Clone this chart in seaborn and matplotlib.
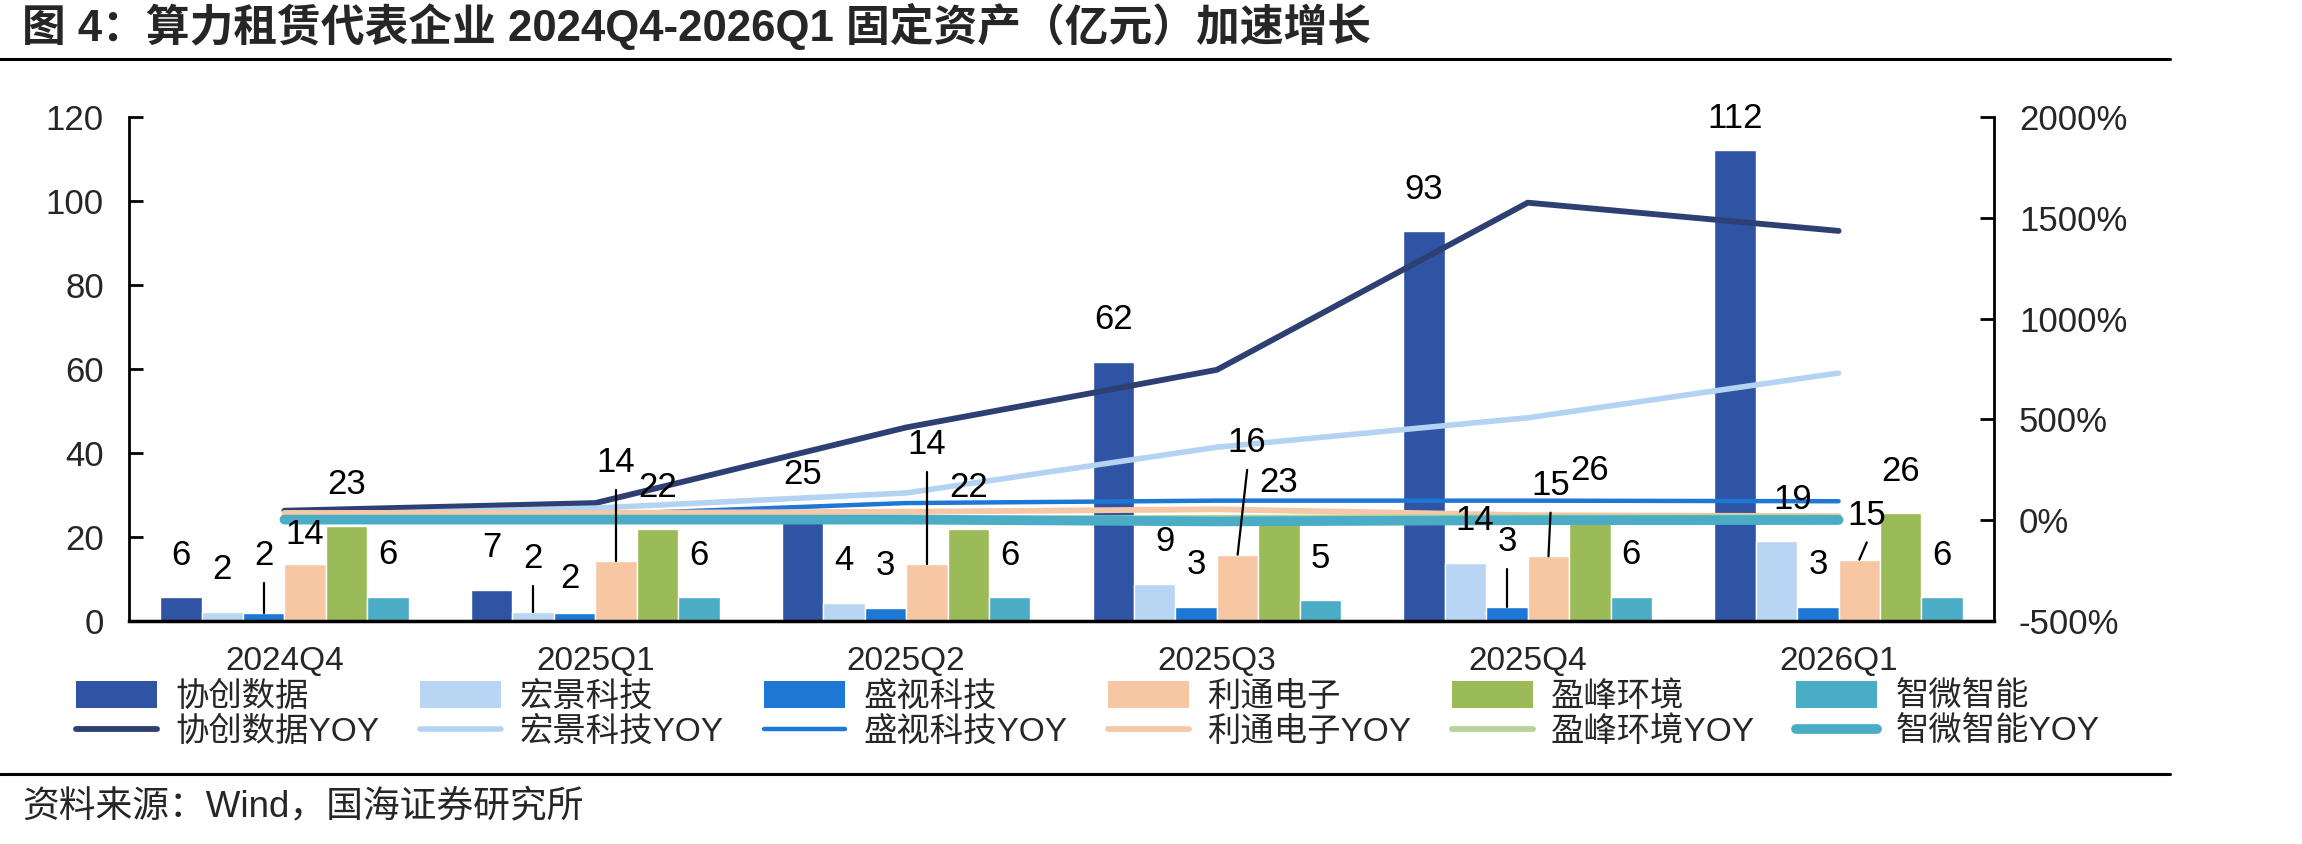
import numpy as np
import pandas as pd
import matplotlib
matplotlib.use('Agg')
import matplotlib.pyplot as plt
import matplotlib.ticker as mticker
from matplotlib.lines import Line2D
from matplotlib.patches import Patch
import seaborn as sns

# ---------------- data ----------------
quarters = ['2024Q4', '2025Q1', '2025Q2', '2025Q3', '2025Q4', '2026Q1']
companies = ['协创数据', '宏景科技', '盛视科技', '利通电子', '盈峰环境', '智微智能']

xiechuang = [5.6, 7.4, 24.8, 61.7, 92.8, 112.2]
hongjing = [2.2, 2.2, 4.3, 8.7, 13.9, 19.0]
shengshi = [2.0, 2.0, 3.2, 3.4, 3.4, 3.4]
litong = [13.6, 14.2, 13.6, 15.8, 15.4, 14.6]
yingfeng = [22.6, 21.8, 21.9, 23.0, 25.8, 25.6]
zhiwei = [5.8, 5.7, 5.7, 5.0, 5.8, 5.7]

xiechuang_yoy = [47, 85, 460, 746, 1575, 1435]
hongjing_yoy = [25, 60, 135, 362, 508, 730]
shengshi_yoy = [20, 28, 85, 97, 97, 94]
litong_yoy = [36, 36, 42, 54, 25, 20]
yingfeng_yoy = [10, 8, 6, 12, 15, 16]
zhiwei_yoy = [3, 3, 3, -6, 0, 1]

bar_series = [xiechuang, hongjing, shengshi, litong, yingfeng, zhiwei]
yoy_series = [xiechuang_yoy, hongjing_yoy, shengshi_yoy, litong_yoy, yingfeng_yoy, zhiwei_yoy]

# ---------------- style ----------------
bar_colors = ['#2F54A3', '#B8D5F3', '#1C78D4', '#F7C7A3', '#9BBB59', '#4BACC6']
line_colors = ['#2E3F73', '#B4D3F2', '#1C78D4', '#F5C9A8', '#B6D39A', '#4BACC6']
line_widths = [4.2, 4.0, 3.2, 4.2, 4.2, 7.0]

# label adjustments: (company idx, quarter idx) -> (dx in bar widths, dy in data units, leader line)
label_adj = {
    (2, 0): (0.0, 3.6, True),
    (3, 0): (0.0, -2.9, False),
    (1, 1): (0.0, 2.6, True),
    (2, 1): (-0.1, -1.9, False),
    (3, 1): (0.0, 13.6, True),
    (3, 2): (0.0, 18.4, True),
    (1, 3): (0.25, 0.3, False),
    (3, 3): (0.23, 16.7, True),
    (1, 4): (0.22, 0.0, False),
    (2, 4): (0.0, 5.6, True),
    (3, 4): (0.05, 6.9, True),
    (1, 5): (0.4, 0.0, False),
    (3, 5): (0.18, 0.6, True),
    (0, 5): (0.0, -2.5, False),
}

sns.set_style('white')
plt.rcParams['font.family'] = ['Liberation Sans', 'Noto Sans CJK SC']
plt.rcParams['axes.unicode_minus'] = False

FS = 25
W, H = 2302, 844
fig = plt.figure(figsize=(W / 100, H / 100), dpi=100)
ax = fig.add_axes([129 / W, 1 - 621 / H, (1994 - 129) / W, (621 - 117) / H])

df = pd.DataFrame({
    'quarter': np.repeat([quarters], len(companies), axis=0).ravel(),
    'company': np.repeat(companies, len(quarters)),
    'value': np.concatenate(bar_series),
})

sns.barplot(data=df, x='quarter', y='value', hue='company', order=quarters,
            hue_order=companies, palette=bar_colors, width=0.8, gap=0,
            saturation=1, ax=ax, legend=False, errorbar=None)

ax.set_xlim(-0.5, 5.5)
ax.set_ylim(0, 120)
ax.set_yticks(range(0, 121, 20))
ax.set_xlabel('')
ax.set_ylabel('')
ax.set_xticks(range(len(quarters)))
ax.set_xticklabels(quarters)
ax.set_xticks(np.arange(0.5, len(quarters) - 0.5, 1.0), minor=True)
ax.tick_params(axis='x', which='major', length=0, labelsize=24, pad=18)
ax.tick_params(axis='x', which='minor', direction='in', length=10, width=2, color='black')
ax.tick_params(axis='y', direction='in', length=10, width=2, labelsize=FS, pad=18,
               color='black', left=True)
for s in ['top', 'right']:
    ax.spines[s].set_visible(False)
ax.spines['left'].set_linewidth(2)
ax.spines['left'].set_color('black')
ax.spines['bottom'].set_linewidth(2.5)
ax.spines['bottom'].set_color('black')

ax2 = ax.twinx()
xs = np.arange(len(quarters))
for vals, c, lw in zip(yoy_series, line_colors, line_widths):
    sns.lineplot(x=xs, y=vals, ax=ax2, color=c, linewidth=lw, legend=False,
                 solid_capstyle='round', solid_joinstyle='round')
ax2.set_ylim(-500, 2000)
ax2.set_yticks(range(-500, 2001, 500))
ax2.yaxis.set_major_formatter(mticker.FuncFormatter(lambda v, p: f'{v:.0f}%'))
ax2.tick_params(axis='y', direction='in', length=10, width=2, labelsize=FS, pad=18,
                color='black', right=True)
ax2.set_ylabel('')
for s in ['top', 'left', 'bottom']:
    ax2.spines[s].set_visible(False)
ax2.spines['right'].set_linewidth(2)
ax2.spines['right'].set_color('black')

# data labels
bw = 0.8 / len(companies)
for ci, cont in enumerate(ax.containers):
    vals = bar_series[ci]
    for qi, patch in enumerate(cont):
        v = vals[qi]
        bx = patch.get_x() + patch.get_width() / 2
        dx, dy, leader = label_adj.get((ci, qi), (0.0, 0.0, False))
        lx = bx + dx * bw
        ly = v + 10 + dy
        ax2.text(lx, ly, f'{v:.0f}', transform=ax.transData, ha='center', va='center',
                 fontsize=FS, color='black', zorder=10)
        if leader:
            ax2.plot([lx, bx], [ly - 6.5, v], transform=ax.transData, color='black',
                     lw=1.6, zorder=9)

# legend
handles, labels = [], []
for name, bc, lc, lw in zip(companies, bar_colors, line_colors, line_widths):
    handles.append(Patch(facecolor=bc, edgecolor='none'))
    labels.append(name)
    handles.append(Line2D([0], [0], color=lc, lw=lw, solid_capstyle='round'))
    labels.append(name + 'YOY')
fig.legend(handles, labels, ncol=6, loc='upper left',
           bbox_to_anchor=(76 / W, 1 - 681 / H), frameon=False, fontsize=24,
           handlelength=2.43, handleheight=0.85, handletextpad=0.55,
           columnspacing=1.22, labelspacing=0.1, borderpad=0, borderaxespad=0)

# title, rules, source
fig.text(22 / W, 1 - 26 / H,
         '图 4：算力租赁代表企业 2024Q4-2026Q1 固定资产（亿元）加速增长',
         fontsize=31.5, fontweight='bold', ha='left', va='center')
fig.add_artist(Line2D([0, 2170 / W], [1 - 59 / H] * 2, color='black', lw=2.2,
                      transform=fig.transFigure))
fig.add_artist(Line2D([0, 2170 / W], [1 - 774 / H] * 2, color='black', lw=2.2,
                      transform=fig.transFigure))
fig.text(22 / W, 1 - 807 / H, '资料来源：Wind，国海证券研究所', fontsize=26.5,
         ha='left', va='center')

fig.savefig('out.png', dpi=100)
